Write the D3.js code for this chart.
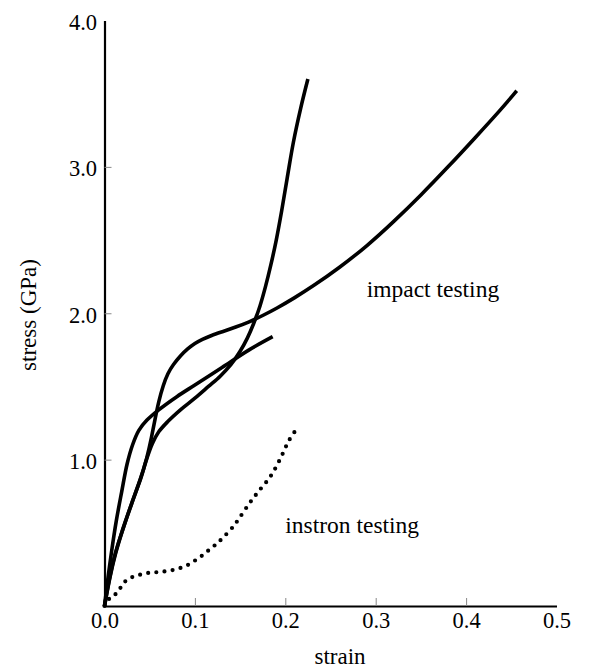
<!DOCTYPE html>
<html><head><meta charset="utf-8">
<script src="https://cdn.jsdelivr.net/npm/d3@7"></script>
<style>body{margin:0;background:#fff}svg{display:block}text{font-family:'Liberation Serif','Times New Roman',serif}</style>
</head><body><svg id="c" width="604" height="670"></svg>
<script>
// ---- data ----
const xTickValues = [0, 0.1, 0.2, 0.3, 0.4, 0.5];
const yTickValues = [1, 2, 3, 4];

const curveA_strain = [0, 0.006, 0.012, 0.02, 0.03, 0.04, 0.047, 0.053, 0.06, 0.07, 0.084, 0.1, 0.115, 0.128, 0.14, 0.15, 0.158, 0.165, 0.172, 0.178, 0.184, 0.19, 0.196, 0.202, 0.209, 0.217, 0.225];
const curveA_stress = [0, 0.2, 0.36, 0.52, 0.7, 0.87, 1.01, 1.11, 1.19, 1.26, 1.34, 1.42, 1.5, 1.57, 1.65, 1.74, 1.83, 1.93, 2.05, 2.18, 2.33, 2.5, 2.7, 2.92, 3.17, 3.4, 3.6];

const curveB_strain = [0, 0.006, 0.012, 0.02, 0.03, 0.04, 0.047, 0.052, 0.056, 0.06, 0.065, 0.07, 0.076, 0.084, 0.092, 0.1, 0.108, 0.118, 0.131, 0.145, 0.16, 0.175, 0.19, 0.21, 0.23, 0.26, 0.29, 0.32, 0.35, 0.38, 0.41, 0.44, 0.456, 0.456];
const curveB_stress = [0, 0.2, 0.36, 0.52, 0.7, 0.87, 1.01, 1.15, 1.28, 1.4, 1.51, 1.59, 1.65, 1.71, 1.758, 1.795, 1.822, 1.848, 1.875, 1.905, 1.94, 1.984, 2.032, 2.104, 2.182, 2.312, 2.457, 2.626, 2.806, 2.999, 3.199, 3.402, 3.52, 3.52];

const curveC_strain = [0, 0.004, 0.008, 0.013, 0.019, 0.025, 0.031, 0.038, 0.047, 0.06, 0.08, 0.1, 0.13, 0.16, 0.186];
const curveC_stress = [0, 0.2, 0.38, 0.58, 0.78, 0.97, 1.1, 1.2, 1.27, 1.34, 1.43, 1.51, 1.63, 1.75, 1.84];

const instron_strain = [0, 0.006, 0.015, 0.02, 0.028, 0.037, 0.047, 0.056, 0.065, 0.075, 0.084, 0.092, 0.1, 0.107, 0.115, 0.123, 0.13, 0.142, 0.148, 0.159, 0.17, 0.183, 0.194, 0.204, 0.215];
const instron_stress = [0, 0.055, 0.095, 0.15, 0.19, 0.21, 0.225, 0.23, 0.235, 0.245, 0.26, 0.28, 0.31, 0.34, 0.38, 0.42, 0.46, 0.54, 0.59, 0.69, 0.78, 0.88, 1.0, 1.13, 1.23];

const labelImpact = "impact testing";
const labelInstron = "instron testing";
const xTitle = "strain";
const yTitle = "stress (GPa)";

// ---- chart ----
const svg = d3.select("#c");
const font = "'Liberation Serif','Times New Roman',serif";
const x = d3.scaleLinear().domain([0, 0.5]).range([104.5, 556.5]);
const y = d3.scaleLinear().domain([0, 4]).range([606, 20.5]);

// x axis
const gx = svg.append("g").attr("transform", `translate(0,${y(0)})`)
  .call(d3.axisBottom(x).tickValues(xTickValues).tickFormat(d3.format(".1f")).tickSizeInner(-8).tickSizeOuter(0).tickPadding(6))
  .attr("font-family", font).attr("font-size", 22.5);
gx.select(".domain").attr("stroke", "#000").attr("stroke-width", 2.2);
gx.selectAll(".tick line").attr("stroke", "#888").attr("stroke-width", 1)
  .filter(d => d === 0 || d === 0.5).remove();
gx.selectAll(".tick text").attr("fill", "#000");

// y axis
const gy = svg.append("g").attr("transform", `translate(${x(0)},0)`)
  .call(d3.axisLeft(y).tickValues(yTickValues).tickFormat(d3.format(".1f")).tickSizeInner(-7).tickSizeOuter(0).tickPadding(7.5))
  .attr("font-family", font).attr("font-size", 22.5);
gy.select(".domain").attr("stroke", "#000").attr("stroke-width", 2.2);
gy.selectAll(".tick line").attr("stroke", "#888").attr("stroke-width", 1)
  .filter(d => d === 4).remove();
gy.selectAll(".tick text").attr("fill", "#000").attr("dy", "0.4em");

// curves
const line = d3.line().x(d => x(d[0])).y(d => y(d[1])).curve(d3.curveCatmullRom.alpha(0.5));
const lineB = d3.line().x(d => x(d[0])).y(d => y(d[1])).curve(d3.curveBasis);
const zip = (a, b) => a.map((v, i) => [v, b[i]]);

[[curveA_strain, curveA_stress, line], [curveB_strain, curveB_stress, lineB], [curveC_strain, curveC_stress, line]].forEach(([a, b, gen]) => {
  svg.append("path").datum(zip(a, b)).attr("d", gen)
    .attr("fill", "none").attr("stroke", "#000").attr("stroke-width", 3.6)
    .attr("stroke-linejoin", "round");
});

svg.append("path").datum(zip(instron_strain, instron_stress)).attr("d", line)
  .attr("fill", "none").attr("stroke", "#000").attr("stroke-width", 4.2)
  .attr("stroke-linecap", "round").attr("stroke-dasharray", "0 8.2");

// annotations
svg.append("text").attr("x", x(0.29)).attr("y", y(2.11)).text(labelImpact)
  .attr("font-family", font).attr("font-size", 23.5).attr("fill", "#000");
svg.append("text").attr("x", x(0.2)).attr("y", y(0.5)).text(labelInstron)
  .attr("font-family", font).attr("font-size", 23.5).attr("fill", "#000");

// titles
svg.append("text").attr("x", 340).attr("y", 664).attr("text-anchor", "middle").text(xTitle)
  .attr("font-family", font).attr("font-size", 23).attr("fill", "#000");
svg.append("text").attr("transform", "translate(36,315) rotate(-90)").attr("text-anchor", "middle").text(yTitle)
  .attr("font-family", font).attr("font-size", 23).attr("fill", "#000");
</script>
</body></html>
